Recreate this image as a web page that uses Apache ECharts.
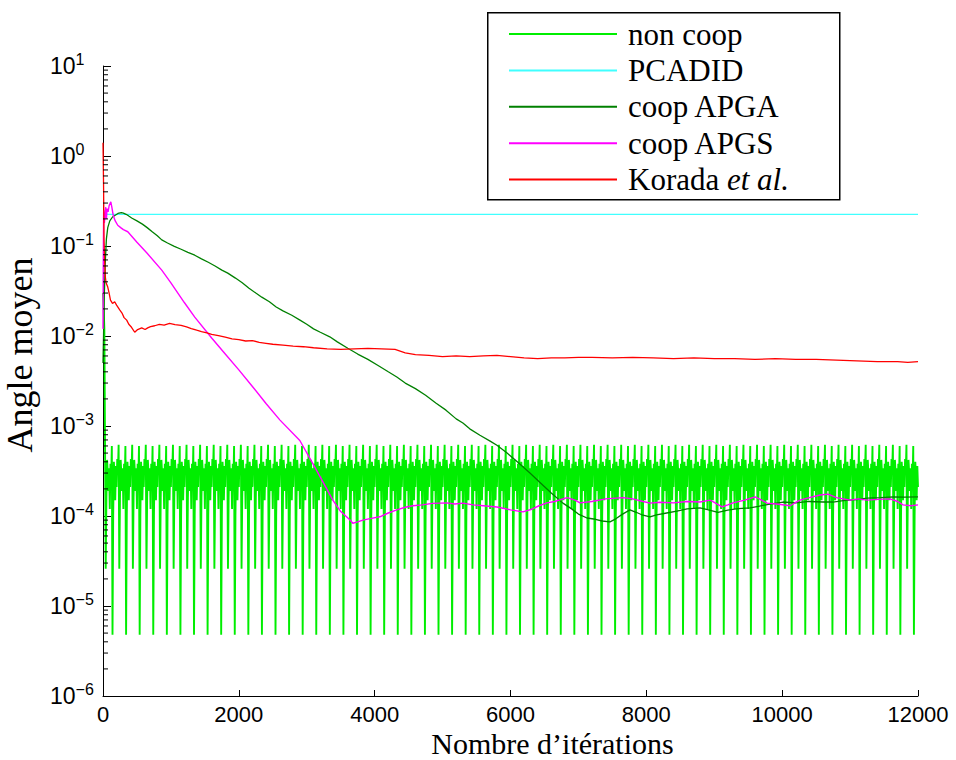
<!DOCTYPE html>
<html>
<head>
<meta charset="utf-8">
<script src="https://cdn.jsdelivr.net/npm/echarts@6/dist/echarts.min.js"></script>
<style>html,body{margin:0;padding:0;background:#fff}#c{width:956px;height:760px}</style>
</head>
<body>
<div id="c"></div>
<script>
// ---------- data ----------
const seriesNames = ['non coop', 'PCADID', 'coop APGA', 'coop APGS', 'Korada et al.'];
const xTicks = [0, 2000, 4000, 6000, 8000, 10000, 12000];
const yDecades = [-6, -5, -4, -3, -2, -1, 0, 1];

// non coop: start, then a repeated 200-iteration oscillation pattern (values read per 10 iterations)
const nonCoopStart = [[0, 0.03], [10, 0.02], [20, 0.012]];
const nonCoopCycle = [6.2e-4, 2.6e-5, 1.6e-4, 4.2e-4, 3.0e-4, 1.9e-4, 3.4e-4, 1.2e-4, 3.8e-4, 2.4e-4,
                      6.0e-4, 4.8e-6, 1.0e-4, 4.0e-4, 2.8e-4, 1.5e-4, 3.6e-4, 2.1e-4, 4.3e-4, 3.1e-4];
const nonCoopCycleStart = 30;
const nonCoopCycleStep = 10;

const pcadid = [[0, 0.225], [12000, 0.225]];

const apga = [[0,0.005],[10,0.012],[20,0.03],[35,0.07],[50,0.12],[70,0.16],[100,0.19],[140,0.21],[180,0.22],[220,0.23],[270,0.235],[300,0.232],[340,0.225],[380,0.215],[422,0.205],[500,0.19],[580,0.175],[650,0.16],[720,0.145],[800,0.13],[865,0.117],[950,0.108],[1050,0.099],[1150,0.092],[1250,0.085],[1351,0.079],[1450,0.072],[1550,0.066],[1650,0.06],[1750,0.054],[1837,0.05],[1950,0.044],[2050,0.039],[2150,0.034],[2250,0.03],[2338,0.027],[2450,0.024],[2550,0.021],[2650,0.019],[2780,0.017],[2900,0.015],[3000,0.0135],[3100,0.012],[3200,0.011],[3339,0.0098],[3450,0.0086],[3604,0.0073],[3750,0.0063],[3900,0.0055],[4050,0.0047],[4200,0.0040],[4326,0.0035],[4450,0.003],[4600,0.0026],[4750,0.0022],[4900,0.0018],[5050,0.0015],[5200,0.0012],[5299,0.00108],[5400,0.00093],[5550,0.00079],[5700,0.00068],[5800,0.00061],[5950,0.0005],[6100,0.0004],[6286,0.0003],[6450,0.00023],[6600,0.00018],[6772,0.000139],[6900,0.00012],[7000,0.000105],[7126,0.000095],[7250,0.000092],[7350,0.000088],[7465,0.000086],[7550,0.000093],[7650,0.000105],[7759,0.000117],[7850,0.00011],[7950,0.000102],[8054,0.0000975],[8150,0.000103],[8300,0.000108],[8450,0.000113],[8600,0.00012],[8790,0.000123],[8900,0.000118],[9055,0.00011],[9200,0.000116],[9350,0.000121],[9526,0.000123],[9650,0.000128],[9800,0.000135],[10012,0.000143],[10200,0.00014],[10400,0.000145],[10600,0.000143],[10749,0.000143],[10900,0.000148],[11100,0.000152],[11250,0.000158],[11450,0.00016],[11633,0.000163],[11800,0.000162],[12000,0.000163]];

const apgs = [[0,0.012],[5,0.08],[10,0.25],[20,0.18],[30,0.22],[40,0.27],[50,0.2],[60,0.26],[75,0.24],[90,0.28],[115,0.31],[130,0.27],[150,0.22],[180,0.19],[217,0.17],[260,0.16],[300,0.152],[365,0.144],[500,0.11],[650,0.083],[865,0.054],[1000,0.039],[1200,0.0234],[1351,0.0162],[1600,0.0095],[1800,0.0063],[2000,0.0042],[2200,0.00275],[2400,0.00178],[2603,0.00117],[2898,0.00069],[3100,0.00037],[3250,0.00023],[3384,0.00015],[3500,0.000112],[3634,0.000091],[3678,0.000083],[3750,0.000086],[3826,0.00009],[3950,0.000094],[4076,0.000098],[4200,0.000108],[4326,0.000117],[4450,0.000125],[4562,0.00013],[4700,0.000133],[4850,0.000138],[5063,0.00014],[5180,0.000136],[5299,0.000139],[5450,0.000133],[5600,0.00013],[5800,0.000126],[6000,0.000117],[6183,0.000111],[6300,0.000118],[6420,0.00013],[6537,0.00014],[6650,0.000145],[6831,0.00016],[6950,0.00015],[7023,0.00014],[7200,0.000145],[7400,0.000155],[7657,0.00016],[7800,0.000155],[7950,0.000145],[8054,0.000139],[8200,0.000142],[8400,0.00014],[8600,0.000145],[8790,0.000143],[8938,0.00015],[9000,0.000142],[9115,0.000126],[9200,0.000133],[9277,0.00014],[9450,0.00015],[9601,0.000163],[9700,0.00015],[9778,0.000139],[9950,0.000135],[10117,0.00013],[10200,0.000142],[10264,0.00015],[10400,0.00016],[10559,0.000171],[10676,0.000175],[10800,0.00016],[11000,0.00015],[11120,0.000155],[11250,0.00015],[11400,0.000153],[11590,0.000155],[11700,0.000145],[11780,0.000133],[11900,0.00013],[12000,0.000133]];

const korada = [[0,1.4],[8,0.5],[15,0.12],[25,0.065],[35,0.045],[45,0.039],[70,0.035],[90,0.03],[110,0.025],[140,0.023],[172,0.024],[200,0.022],[246,0.0195],[280,0.018],[310,0.016],[349,0.015],[380,0.0135],[420,0.0125],[467,0.011],[510,0.0118],[570,0.0123],[620,0.0118],[658,0.0123],[700,0.0127],[761,0.013],[830,0.0135],[900,0.0132],[980,0.0138],[1060,0.0134],[1150,0.0131],[1230,0.0126],[1300,0.0121],[1380,0.0116],[1450,0.0112],[1530,0.0108],[1600,0.0104],[1700,0.0101],[1800,0.0097],[1900,0.0093],[2000,0.0091],[2100,0.0088],[2200,0.0089],[2300,0.0085],[2400,0.0083],[2500,0.0081],[2650,0.0079],[2800,0.0077],[2950,0.0076],[3100,0.0074],[3300,0.0072],[3500,0.0071],[3700,0.0072],[3900,0.0073],[4100,0.0072],[4300,0.0071],[4450,0.0065],[4600,0.0062],[4800,0.0061],[5000,0.0059],[5200,0.0060],[5400,0.0059],[5600,0.0060],[5800,0.0061],[6000,0.0059],[6200,0.0057],[6400,0.0056],[6600,0.0057],[6800,0.0057],[7000,0.0058],[7200,0.0058],[7500,0.0057],[7800,0.0058],[8100,0.0057],[8400,0.0056],[8700,0.0057],[9000,0.0056],[9300,0.0056],[9600,0.0055],[9900,0.0056],[10200,0.0055],[10500,0.0055],[10800,0.0054],[11100,0.0053],[11400,0.0052],[11700,0.0052],[11850,0.0051],[12000,0.0052]];

// ---------- build ----------
const nonCoop = nonCoopStart.slice();
for (let it = nonCoopCycleStart, k = 0; it <= 12000; it += nonCoopCycleStep, k++) {
  nonCoop.push([it, nonCoopCycle[k % nonCoopCycle.length]]);
}
const minorTicks = [];
for (let i = 0; i < yDecades.length - 1; i++) {
  for (let m = 2; m <= 9; m++) minorTicks.push([0, m * Math.pow(10, yDecades[i])]);
}

const colors = ['#00ee00', '#40ffff', '#008000', '#ff00ff', '#ff0000'];
const widths = [1.9, 1.3, 1.3, 1.4, 1.3];
const datasets = [nonCoop, pcadid, apga, apgs, korada];
const serif = 'Liberation Serif';
const sans = 'Liberation Sans';

const lineSeries = datasets.map((d, i) => ({
  name: seriesNames[i], type: 'line', data: d, showSymbol: false, symbol: 'none',
  color: colors[i], lineStyle: { width: widths[i], color: colors[i] }, animation: false, z: 2 + i
}));

const chart = echarts.init(document.getElementById('c'), null, { renderer: 'svg' });
chart.setOption({
  animation: false,
  backgroundColor: '#fff',
  grid: { left: 103, right: 38, top: 66, bottom: 64, containLabel: false, outerBoundsMode: 'none' },
  xAxis: {
    type: 'value', min: xTicks[0], max: xTicks[xTicks.length - 1], interval: 2000,
    name: 'Nombre d\u2019itérations', nameLocation: 'middle', nameGap: 33, nameMoveOverlap: false,
    nameTextStyle: { fontFamily: serif, fontSize: 30, lineHeight: 28, color: '#000', padding: [0, 0, 0, 84] },
    axisLine: { lineStyle: { color: '#000', width: 1 } },
    axisTick: { inside: true, length: 6, lineStyle: { color: '#000' } },
    axisLabel: { fontFamily: sans, fontSize: 22, lineHeight: 22, color: '#000', margin: 7, formatter: v => String(v) },
    splitLine: { show: false }
  },
  yAxis: {
    type: 'log', logBase: 10, min: Math.pow(10, yDecades[0]), max: Math.pow(10, yDecades[yDecades.length - 1]), interval: 1,
    name: 'Angle moyen', nameLocation: 'middle', nameGap: 65,
    nameTextStyle: { fontFamily: serif, fontSize: 36, color: '#000', padding: [0, 0, 0, 52] },
    axisLine: { show: true, lineStyle: { color: '#000', width: 1 } },
    axisTick: { inside: true, length: 8, lineStyle: { color: '#000' } },
    axisLabel: {
      align: 'left', margin: 53,
      formatter: v => { const e = Math.round(Math.log10(v)); return '{b|10}{s|' + (e < 0 ? '\u2212' + (-e) : e) + '}'; },
      rich: {
        b: { fontFamily: sans, fontSize: 23, color: '#000', lineHeight: 30, verticalAlign: 'middle' },
        s: { fontFamily: sans, fontSize: 16, color: '#000', lineHeight: 16, verticalAlign: 'top' }
      }
    },
    splitLine: { show: false }
  },
  legend: {
    data: seriesNames, orient: 'vertical', left: 509, top: 18.5, padding: 0,
    itemGap: 5.4, itemWidth: 108, itemHeight: 2, icon: 'rect',
    formatter: n => n === 'Korada et al.' ? '{n|Korada }{i|et al.}' : '{n|' + n + '}',
    textStyle: {
      fontFamily: serif, fontSize: 31, color: '#000', lineHeight: 30, padding: [0, 0, 0, 6],
      rich: {
        n: { fontFamily: serif, fontSize: 31, color: '#000', lineHeight: 30 },
        i: { fontFamily: serif, fontSize: 31, color: '#000', lineHeight: 30, fontStyle: 'italic' }
      }
    },
    selectedMode: false
  },
  graphic: [{
    type: 'rect', left: 487, top: 12, z: 0,
    shape: { width: 352, height: 187 },
    style: { fill: '#fff', stroke: '#000', lineWidth: 1.5 }
  }],
  series: lineSeries.concat([{
    type: 'custom', name: 'minorTicks', data: minorTicks, clip: false, z: 20, silent: true,
    renderItem: (params, api) => {
      const p = api.coord([api.value(0), api.value(1)]);
      return { type: 'line', shape: { x1: p[0], y1: p[1], x2: p[0] + 5, y2: p[1] }, style: { stroke: '#000', lineWidth: 1 } };
    }
  }])
});
</script>
</body>
</html>
